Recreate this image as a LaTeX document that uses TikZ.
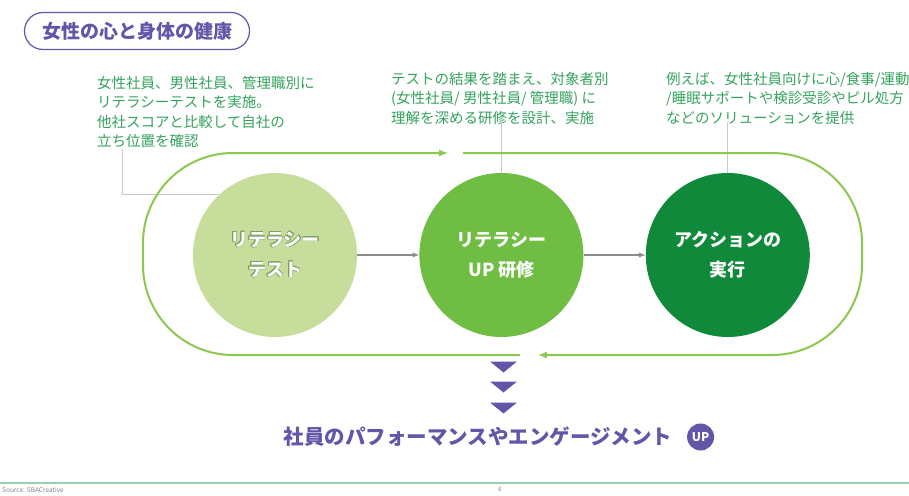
\documentclass[tikz,border=0pt]{standalone}
\usepackage{fontspec}
\setmainfont{Noto Sans CJK JP}
\usepackage{tikz}
\usetikzlibrary{shapes,arrows,positioning}
\usepackage{contour}
\contourlength{0.5pt}
\definecolor{notegreen}{RGB}{52,162,92}
\definecolor{loopgreen}{RGB}{140,200,80}
\definecolor{testgreen}{RGB}{198,221,156}
\definecolor{testedge}{RGB}{128,160,100}
\definecolor{uppgreen}{RGB}{112,189,68}
\definecolor{actgreen}{RGB}{16,138,58}
\definecolor{deeppurple}{RGB}{98,86,168}
\definecolor{linegray}{RGB}{200,200,200}
\definecolor{arrowgray}{RGB}{140,140,140}
\definecolor{footgreen}{RGB}{150,210,175}
\tikzstyle{titlebox} = [rounded rectangle, draw=deeppurple, line width=1.2pt, minimum width=225pt, minimum height=37pt, inner sep=0pt, text=deeppurple, font=\fontsize{19}{19}\selectfont\bfseries]
\tikzstyle{stage} = [circle, minimum size=164pt, inner sep=0pt, text=white, align=center, font=\fontsize{18}{30}\selectfont\bfseries]
\tikzstyle{note} = [anchor=west, inner sep=0pt, align=left, text=notegreen, font=\fontsize{14.5}{19.5}\selectfont]
\tikzstyle{callout} = [linegray, line width=1pt]
\tikzstyle{arrow} = [arrowgray, line width=1.3pt, ->, >=latex]
\tikzstyle{cycle} = [loopgreen, line width=2pt, rounded corners=90pt, ->, >=latex]
\tikzstyle{chevron} = [fill=deeppurple]
\tikzstyle{upbadge} = [circle, fill=deeppurple, minimum size=27pt, inner sep=0pt, text=white, font=\fontsize{12}{12}\selectfont\bfseries]

\begin{document}
\begin{tikzpicture}[x=1pt, y=-1pt]
\useasboundingbox (0,0) rectangle (909,495);

\node(title)     [titlebox] at (137,31) {女性の心と身体の健康};

\node(test)      [stage, fill=testgreen] at (275,255) {\contour{testedge}{リテラシー}\\\contour{testedge}{テスト}};
\node(training)  [stage, fill=uppgreen, right=62pt of test]     {リテラシー\\UP 研修};
\node(action)    [stage, fill=actgreen, right=62pt of training] {アクションの\\実行};

\node(note1)     [note] at (97,112) {女性社員、男性社員、管理職別に\\リテラシーテストを実施。\\他社スコアと比較して自社の\\立ち位置を確認};
\node(note2)     [note] at (391,98) {テストの結果を踏まえ、対象者別\\(女性社員/ 男性社員/ 管理職) に\\理解を深める研修を設計、実施};
\node(note3)     [note] at (666,98) {例えば、女性社員向けに心/食事/運動\\/睡眠サポートや検診受診やピル処方\\などのソリューションを提供};

\coordinate(note1foot) at (122,149);
\coordinate(topgapl)   at (448,153);
\coordinate(topgapr)   at (463,153);
\coordinate(botgapl)   at (520,355);
\coordinate(botgapr)   at (538,355);

\draw [callout] (note1foot) |- (test.133);
\draw [callout] (training.north |- note2.south) ++(0,-2) -- (training.north);
\draw [callout] (action.north |- note3.south) ++(0,-2) -- (action.north);

\draw [arrow] (test)     -- (training);
\draw [arrow] (training) -- (action);

% cycle round the three steps
\draw [cycle] (botgapl) -- (143,355) -- (143,153) -- (topgapl);
\draw [cycle] (topgapr) -- (862,153) -- (862,355) -- (botgapr);

\foreach \y in {367,387,408}
  \fill [chevron] (490,\y-5.5) -- (517,\y-5.5) -- (503.5,\y+5.5) -- cycle;

\node(perf)      [text=deeppurple, font=\fontsize{20.5}{20.5}\selectfont\bfseries] at (478,437) {社員のパフォーマンスやエンゲージメント};
\node(up)        [upbadge, right=11pt of perf] {UP};

\draw [footgreen, line width=1.5pt] (0,483) -- (909,483);
\node(page)      [text=gray, font=\fontsize{6}{6}\selectfont] at (500,489) {6};
\node(source)    [anchor=west, text=gray, font=\fontsize{6.5}{6.5}\selectfont, inner sep=0pt] at (2,490) {Source: SBACreative};

\end{tikzpicture}
\end{document}
